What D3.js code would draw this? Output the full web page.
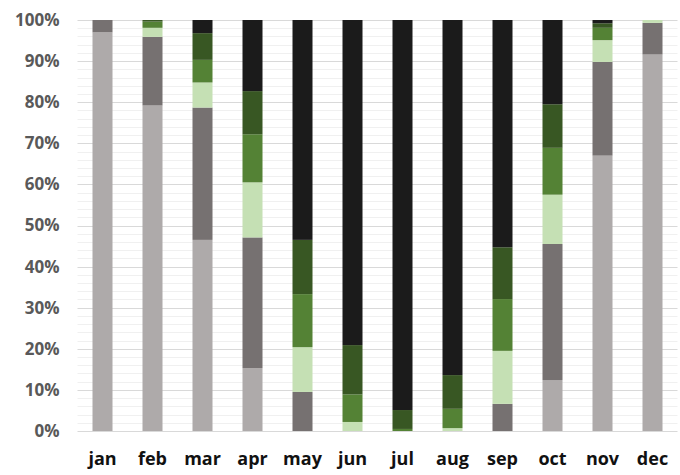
<!DOCTYPE html>
<html>
<head>
<meta charset="utf-8">
<script src="https://cdn.jsdelivr.net/npm/d3@7"></script>
<style>
  html, body { margin: 0; padding: 0; background: #fff; }
  svg { display: block; }
</style>
</head>
<body>
<svg id="chart" width="680" height="475"></svg>
<script>
const months = ["jan","feb","mar","apr","may","jun","jul","aug","sep","oct","nov","dec"];
const seriesNames = ["s1","s2","s3","s4","s5","s6"];
const s1 = [97.0, 79.2, 46.5, 15.3, 0, 0, 0, 0, 0, 12.4, 67.0, 91.6];
const s2 = [3.0, 16.7, 32.2, 31.8, 9.5, 0, 0, 0, 6.6, 33.1, 22.8, 7.7];
const s3 = [0, 2.2, 6.1, 13.4, 10.9, 2.2, 0, 0.7, 12.9, 12.0, 5.3, 0.7];
const s4 = [0, 1.5, 5.5, 11.7, 12.9, 6.7, 0.5, 4.7, 12.6, 11.4, 3.0, 0];
const s5 = [0, 0.4, 6.5, 10.5, 13.2, 12.0, 4.6, 8.2, 12.6, 10.6, 1.1, 0];
const s6 = [0, 0, 3.2, 17.3, 53.5, 79.1, 94.9, 86.4, 55.3, 20.5, 0.8, 0];
const yTicks = [0, 0.1, 0.2, 0.3, 0.4, 0.5, 0.6, 0.7, 0.8, 0.9, 1.0];
const colors = ["#aeaaaa", "#767171", "#c5e0b4", "#548235", "#385723", "#1b1b1b"];

const seriesVals = [s1, s2, s3, s4, s5, s6];
const data = months.map((m, i) => {
  const row = { month: m };
  const tot = d3.sum(seriesVals, s => s[i]);
  seriesNames.forEach((k, j) => row[k] = seriesVals[j][i] / tot);
  return row;
});

const svg = d3.select("#chart");
const mLeft = 77.5, mRight = 677.5, mTop = 20, mBottom = 431;

const x = d3.scaleBand().domain(months).range([mLeft, mRight]).paddingInner(0.6).paddingOuter(0.3);
const y = d3.scaleLinear().domain([0, 1]).range([mBottom, mTop]);

// minor gridlines
const minor = d3.range(0, 1.0001, 0.02).filter(v => Math.round(v * 100) % 10 !== 0);
svg.append("g").selectAll("line").data(minor).join("line")
  .attr("x1", mLeft).attr("x2", mRight)
  .attr("y1", d => Math.round(y(d)) + 0.5).attr("y2", d => Math.round(y(d)) + 0.5)
  .attr("stroke", "#f0f0f0").attr("stroke-width", 1);

// major gridlines
svg.append("g").selectAll("line").data(yTicks).join("line")
  .attr("x1", mLeft).attr("x2", mRight)
  .attr("y1", d => Math.round(y(d)) + 0.5).attr("y2", d => Math.round(y(d)) + 0.5)
  .attr("stroke", "#d9d9d9").attr("stroke-width", 1);

const stack = d3.stack().keys(seriesNames);
const stacked = stack(data);

svg.append("g").selectAll("g").data(stacked).join("g")
  .attr("fill", (d, i) => colors[i])
  .selectAll("rect").data(d => d).join("rect")
  .attr("x", d => x(d.data.month))
  .attr("width", x.bandwidth())
  .attr("y", d => y(d[1]))
  .attr("height", d => Math.max(0, y(d[0]) - y(d[1])));

// y axis labels
const yAxis = d3.axisLeft(y).tickValues(yTicks).tickFormat(d3.format(".0%")).tickSize(0).tickPadding(0);
const yg = svg.append("g").attr("transform", `translate(${mLeft - 18},0)`).call(yAxis);
yg.select(".domain").remove();
yg.selectAll("text")
  .attr("fill", "#595959")
  .style("font-family", "'Open Sans', sans-serif")
  .style("font-weight", "700")
  .style("font-size", "17px");

// x axis labels
const xAxis = d3.axisBottom(x).tickSize(0).tickPadding(0);
const xg = svg.append("g").attr("transform", `translate(0,${mBottom + 21})`).call(xAxis);
xg.select(".domain").remove();
xg.selectAll("text")
  .attr("fill", "#111")
  .style("font-family", "'Open Sans', sans-serif")
  .style("font-weight", "700")
  .style("font-size", "18px");
</script>
</body>
</html>
